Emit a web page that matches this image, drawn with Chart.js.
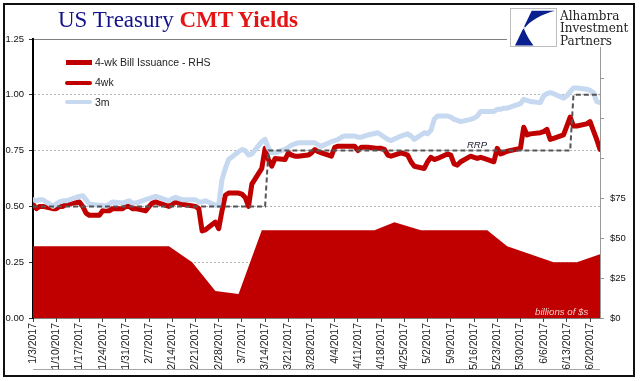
<!DOCTYPE html>
<html>
<head>
<meta charset="utf-8">
<script src="https://cdn.jsdelivr.net/npm/chart.js@4.4.1/dist/chart.umd.min.js"></script>
<style>
  html, body { margin:0; padding:0; background:#fff; }
  #wrap { position:relative; width:641px; height:381px; overflow:hidden; }
  #c { position:absolute; left:0; top:0; }
  .abs { position:absolute; white-space:nowrap; }
</style>
</head>
<body>
<div id="wrap">
  <canvas id="c" width="641" height="381"></canvas>

  <div class="abs" style="left:58px;top:7.5px;font:23px 'Liberation Serif','Times New Roman',serif;line-height:23px;">
    <span style="color:#14148a;">US Treasury </span><span style="color:#e41414;font-weight:bold;">CMT Yields</span>
  </div>

  <!-- logo area (white background covers the plot top) -->
  <div class="abs" style="left:507px;top:5px;width:127px;height:42px;background:#fff;"></div>
  <svg class="abs" style="left:510px;top:8px;" width="47" height="39" viewBox="0 0 47 39">
    <rect x="0.5" y="0.5" width="46" height="38" fill="#fff" stroke="#bdbdbd" stroke-width="1"/>
    <path d="M21.7,2.7 L45,2.7 C33,6 20,12 14,21 C17,28 20,33 23.5,37.5 L5,37.5 Z" fill="#0a1f8f"/>
    <path d="M8,26 C11,22 13,20 15,19" stroke="#fff" stroke-width="1.2" fill="none"/>
  </svg>
  <div class="abs" style="left:560px;top:9.5px;font:12px 'DejaVu Serif',serif;line-height:12.7px;color:#222;">Alhambra<br>Investment<br>Partners</div>

  <!-- legend -->
  <div class="abs" style="left:66px;top:60px;width:26px;height:4.5px;background:#c00000;"></div>
  <div class="abs" style="left:95px;top:56.4px;font:10.5px 'Liberation Sans',Arial,sans-serif;line-height:12px;color:#222;">4-wk Bill Issuance - RHS</div>
  <div class="abs" style="left:65px;top:80.7px;width:27px;height:4px;border-radius:2px;background:#c00000;"></div>
  <div class="abs" style="left:95px;top:76.4px;font:10.5px 'Liberation Sans',Arial,sans-serif;line-height:12px;color:#222;">4wk</div>
  <div class="abs" style="left:65px;top:99.7px;width:27px;height:4px;border-radius:2px;background:#c6d9f0;"></div>
  <div class="abs" style="left:95px;top:96.4px;font:10.5px 'Liberation Sans',Arial,sans-serif;line-height:12px;color:#222;">3m</div>

  <div class="abs" style="left:467px;top:139.8px;font:italic 9.5px 'Liberation Sans',Arial,sans-serif;line-height:9.5px;color:#1a1a2e;">RRP</div>
  <div class="abs" style="left:535px;top:307px;font:italic 9.7px 'Liberation Sans',Arial,sans-serif;line-height:9.7px;color:#f4cccc;">billions of $s</div>

  <div class="abs" style="left:3px;top:3px;width:632px;height:374px;border:2px solid #111;box-sizing:border-box;"></div>
</div>

<script>
// ---- data ----
const dates = [
'1/3','1/4','1/5','1/6',
'1/9','1/10','1/11','1/12','1/13',
'1/17','1/18','1/19','1/20',
'1/23','1/24','1/25','1/26','1/27',
'1/30','1/31','2/1','2/2','2/3',
'2/6','2/7','2/8','2/9','2/10',
'2/13','2/14','2/15','2/16','2/17',
'2/21','2/22','2/23','2/24',
'2/27','2/28','3/1','3/2','3/3',
'3/6','3/7','3/8','3/9','3/10',
'3/13','3/14','3/15','3/16','3/17',
'3/20','3/21','3/22','3/23','3/24',
'3/27','3/28','3/29','3/30','3/31',
'4/3','4/4','4/5','4/6','4/7',
'4/10','4/11','4/12','4/13','4/14',
'4/17','4/18','4/19','4/20','4/21',
'4/24','4/25','4/26','4/27','4/28',
'5/1','5/2','5/3','5/4','5/5',
'5/8','5/9','5/10','5/11','5/12',
'5/15','5/16','5/17','5/18','5/19',
'5/22','5/23','5/24','5/25','5/26',
'5/30','5/31','6/1','6/2',
'6/5','6/6','6/7','6/8','6/9',
'6/12','6/13','6/14','6/15','6/16',
'6/19','6/20','6/21','6/22','6/23'];

const yield4wk = [
0.51,0.49,0.50,0.50,
0.49,0.49,0.50,0.50,0.51,
0.52,0.50,0.47,0.46,
0.46,0.48,0.48,0.48,0.49,
0.49,0.50,0.50,0.49,0.49,
0.48,0.50,0.515,0.52,0.515,
0.50,0.51,0.52,0.515,0.51,
0.50,0.49,0.39,0.395,
0.43,0.40,0.48,0.55,0.56,
0.56,0.555,0.54,0.50,0.60,
0.67,0.76,0.71,0.68,0.715,
0.71,0.74,0.73,0.725,0.725,
0.73,0.74,0.755,0.745,0.74,
0.725,0.765,0.77,0.77,0.77,
0.77,0.75,0.765,0.765,0.765,
0.76,0.76,0.755,0.73,0.725,
0.74,0.735,0.73,0.70,0.68,
0.67,0.70,0.72,0.71,0.715,
0.735,0.73,0.69,0.685,0.70,
0.725,0.72,0.715,0.72,0.715,
0.70,0.76,0.735,0.74,0.747,
0.76,0.855,0.82,0.825,
0.83,0.835,0.845,0.80,0.805,
0.82,0.86,0.90,0.86,0.86,
0.87,0.88,0.84,0.80,0.755];

const yield3m = [
0.53,0.525,0.53,0.53,
0.50,0.51,0.52,0.525,0.525,
0.545,0.548,0.53,0.51,
0.505,0.505,0.50,0.51,0.52,
0.515,0.52,0.525,0.515,0.515,
0.53,0.535,0.54,0.545,0.54,
0.525,0.535,0.54,0.535,0.53,
0.53,0.52,0.52,0.525,
0.505,0.505,0.62,0.67,0.71,
0.745,0.755,0.75,0.73,0.735,
0.79,0.80,0.76,0.74,0.74,
0.755,0.765,0.775,0.78,0.785,
0.785,0.785,0.785,0.775,0.77,
0.79,0.795,0.80,0.81,0.815,
0.815,0.81,0.81,0.815,0.82,
0.83,0.82,0.81,0.80,0.795,
0.815,0.82,0.825,0.815,0.80,
0.83,0.825,0.84,0.89,0.905,
0.905,0.90,0.89,0.885,0.88,
0.89,0.895,0.905,0.925,0.925,
0.925,0.935,0.935,0.94,0.94,
0.96,0.98,0.975,0.97,
0.965,0.995,1.005,1.01,1.005,
0.985,0.995,1.015,1.03,1.03,
1.025,1.02,1.01,0.97,0.965];

const rrpDates = ['1/3','3/14','3/15','6/14','6/15','6/23'];
const rrpRate  = [0.50, 0.50, 0.75, 0.75, 1.00, 1.00];

const issueDates = ['1/3','2/13','2/20','2/27','3/6','3/13','4/16','4/22','4/30','5/20','5/26','6/9','6/16','6/23'];
const issueAmt   = [45, 45, 35, 17, 15, 55, 55, 60, 55, 55, 45, 35, 35, 40];

const xTickLabels = ['1/3/2017','1/10/2017','1/17/2017','1/24/2017','1/31/2017','2/7/2017','2/14/2017',
  '2/21/2017','2/28/2017','3/7/2017','3/14/2017','3/21/2017','3/28/2017','4/4/2017','4/11/2017',
  '4/18/2017','4/25/2017','5/2/2017','5/9/2017','5/16/2017','5/23/2017','5/30/2017','6/6/2017',
  '6/13/2017','6/20/2017'];
const leftTicks = [0, 0.25, 0.5, 0.75, 1.0, 1.25];
const leftTickLabels = ['0.00','0.25','0.50','0.75','1.00','1.25'];
const rightTicks = [0, 25, 50, 75, 100, 125, 150];
const rightTickLabels = ['$0','$25','$50','$75','','',''];

// ---- helpers ----
function dayOf(s) {
  const p = s.split('/').map(Number);
  return (Date.UTC(2017, p[0]-1, p[1]) - Date.UTC(2017, 0, 3)) / 86400000;
}
const toPts = (ds, vs) => ds.map((d, i) => ({ x: dayOf(d), y: vs[i] }));
const xTickPos = xTickLabels.map(dayOf);

const FONT = "'Liberation Sans', Arial, sans-serif";

const bottomRule = {
  id: 'bottomRule',
  afterDraw(chart) {
    const { ctx, chartArea } = chart;
    ctx.save();
    ctx.strokeStyle = '#a6a6a6';
    ctx.lineWidth = 1;
    ctx.beginPath();
    ctx.moveTo(chartArea.left, chartArea.bottom + 51.5);
    ctx.lineTo(chartArea.right, chartArea.bottom + 51.5);
    ctx.stroke();
    ctx.restore();
  }
};

new Chart(document.getElementById('c'), {
  type: 'line',
  data: {
    datasets: [
      { label: 'RRP', data: toPts(rrpDates, rrpRate), yAxisID: 'y', order: 1,
        borderColor: '#555555', borderWidth: 2, borderDash: [5, 3], pointRadius: 0, fill: false, tension: 0 },
      { label: '3m', data: toPts(dates, yield3m), yAxisID: 'y', order: 2,
        borderColor: '#c6d9f0', borderWidth: 5, pointRadius: 0, fill: false, tension: 0,
        borderJoinStyle: 'round', borderCapStyle: 'round' },
      { label: '4wk', data: toPts(dates, yield4wk), yAxisID: 'y', order: 3,
        borderColor: '#c00000', borderWidth: 5, pointRadius: 0, fill: false, tension: 0,
        borderJoinStyle: 'round', borderCapStyle: 'round' },
      { label: '4-wk Bill Issuance - RHS', data: toPts(issueDates, issueAmt), yAxisID: 'y1', order: 4,
        borderColor: '#c00000', backgroundColor: '#c00000', borderWidth: 0, pointRadius: 0,
        fill: 'origin', tension: 0 }
    ]
  },
  options: {
    responsive: false,
    devicePixelRatio: 1,
    animation: false,
    layout: { padding: { top: 39, left: 0, right: 0, bottom: 0 } },
    plugins: { legend: { display: false }, tooltip: { enabled: false } },
    scales: {
      x: {
        type: 'linear',
        position: 'bottom',
        min: dayOf(dates[0]),
        max: dayOf(dates[dates.length - 1]),
        afterBuildTicks: s => { s.ticks = xTickPos.map(v => ({ value: v })); },
        afterFit: s => { s.height = 63; },
        ticks: {
          autoSkip: false, minRotation: 90, maxRotation: 90, padding: 1,
          font: { family: FONT, size: 10.5 }, color: '#222',
          callback: (v) => { const i = xTickPos.indexOf(v); return i >= 0 ? xTickLabels[i] : ''; }
        },
        grid: { drawOnChartArea: false, drawTicks: true, tickLength: 4, tickColor: '#444' },
        border: { color: '#000', width: 1.5 }
      },
      y: {
        position: 'left',
        min: 0, max: 1.25,
        afterBuildTicks: s => { s.ticks = leftTicks.map(v => ({ value: v })); },
        afterFit: s => { s.width = 33; },
        ticks: {
          padding: 5, font: { family: FONT, size: 9.5 }, color: '#111',
          callback: (v) => { const i = leftTicks.indexOf(v); return i >= 0 ? leftTickLabels[i] : ''; }
        },
        grid: {
          drawOnChartArea: true, tickLength: 4, tickColor: '#333', lineWidth: 1,
          color: c => (c.tick && c.tick.value === 0) ? 'rgba(0,0,0,0)' :
                      (c.tick && c.tick.value === 1.25) ? '#7f7f7f' : '#b4b4b4'
        },
        border: { color: '#000', width: 2,
          dash: c => (c.tick && c.tick.value === 1.25) ? [] : [2, 2] }
      },
      y1: {
        position: 'right',
        min: 0, max: 175,
        afterBuildTicks: s => { s.ticks = rightTicks.map(v => ({ value: v })); },
        afterFit: s => { s.width = 41; },
        ticks: {
          padding: 6, font: { family: FONT, size: 9.5 }, color: '#111',
          callback: (v) => { const i = rightTicks.indexOf(v); return i >= 0 ? rightTickLabels[i] : ''; }
        },
        grid: { drawOnChartArea: false, tickLength: 4, tickColor: '#999' },
        border: { color: '#999', width: 1 }
      }
    }
  },
  plugins: [bottomRule]
});
</script>
</body>
</html>
